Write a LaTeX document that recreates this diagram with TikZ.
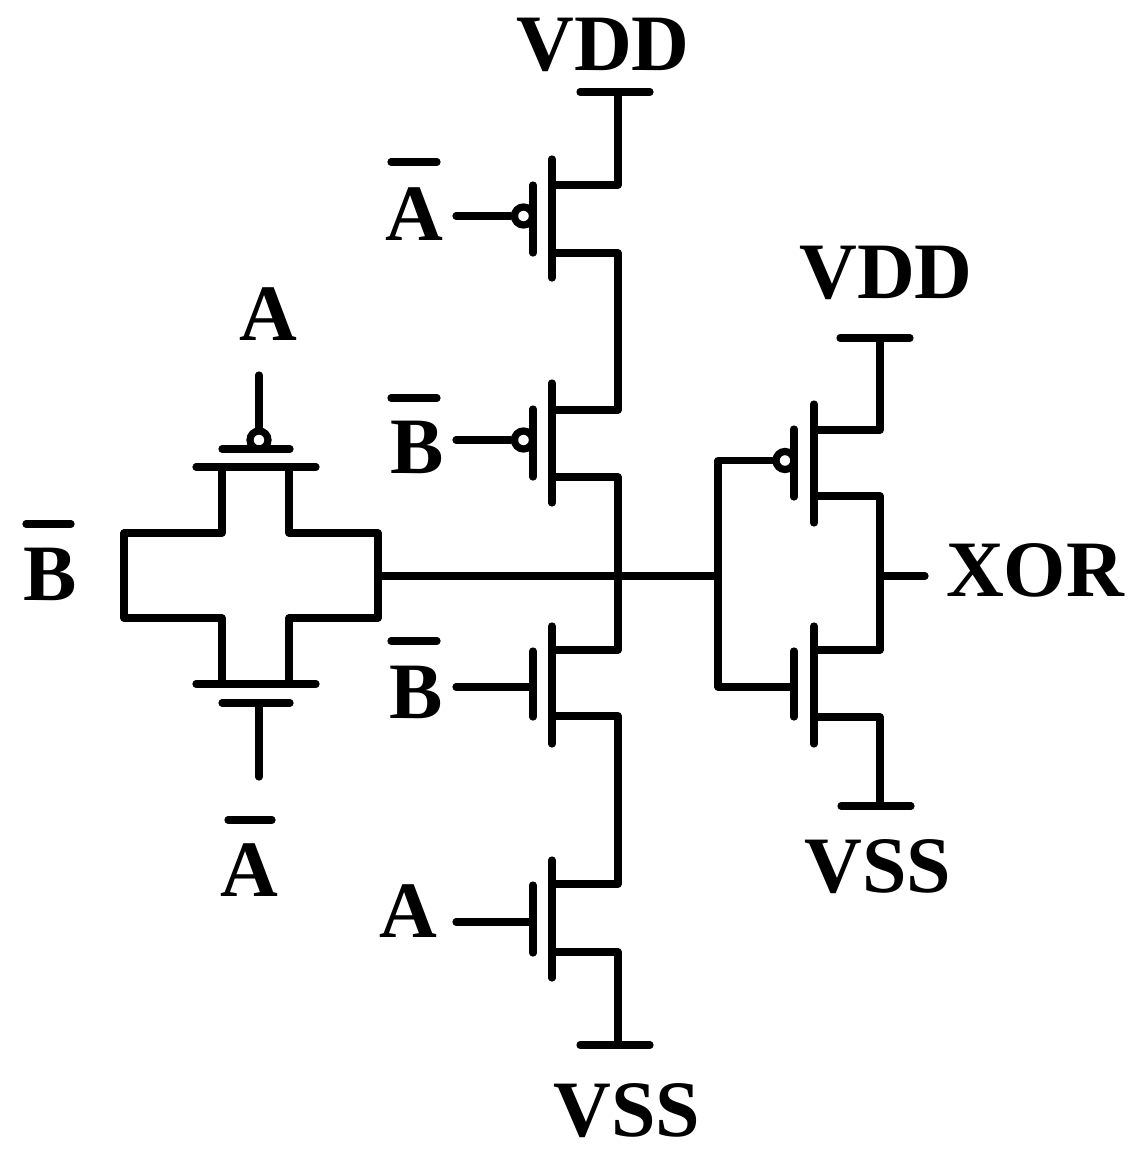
\documentclass[tikz,border=0pt]{standalone}
\usepackage{fontspec}
\setmainfont{Liberation Serif}
\tikzset{
  wire/.style={line width=3.6pt,line cap=round,line join=round},
  bubble/.style={circle,draw,line width=3.6pt,fill=white,minimum size=9pt,inner sep=0pt},
  lbl/.style={font=\fontsize{40}{40}\selectfont\bfseries,inner sep=0pt,anchor=base}
}
\begin{document}
\begin{tikzpicture}[x=0.5pt,y=-0.5pt]
\useasboundingbox (0,0) rectangle (1138,1157);
% bubbles first, so that the gate bars cut them
\node[bubble] (b1) at (523.5,216) {};
\node[bubble] (b2) at (523.5,440) {};
\node[bubble] (b3) at (785,460.5) {};
\node[bubble] (b4) at (259,440) {};
% left stack
\draw[wire] (580,92) -- (650,92);
\draw[wire] (618,92) |- (552,185);
\draw[wire] (552,159) -- (552,278);
\draw[wire] (533,185) -- (533,253);
\draw[wire] (552,253) -| (618,410) -- (552,410);
\draw[wire] (456,216) -- (b1);
\draw[wire] (552,383) -- (552,503);
\draw[wire] (533,409) -- (533,477);
\draw[wire] (456,440) -- (b2);
\draw[wire] (552,477) -| (618,650) -- (552,650);
\draw[wire] (552,626) -- (552,744);
\draw[wire] (533,651) -- (533,717);
\draw[wire] (456,687) -- (533,687);
\draw[wire] (552,716) -| (618,884) -- (552,884);
\draw[wire] (552,860) -- (552,978);
\draw[wire] (533,885) -- (533,953);
\draw[wire] (456,922) -- (533,922);
\draw[wire] (552,952) -| (618,1045);
\draw[wire] (580,1045) -- (650,1045);
% right inverter
\draw[wire] (840,338) -- (910,338);
\draw[wire] (880,338) |- (814,430);
\draw[wire] (814,404) -- (814,523);
\draw[wire] (794,429) -- (794,497);
\draw[wire] (b3) -| (718,687) -- (794,687);
\draw[wire] (814,496) -| (880,650) -- (814,650);
\draw[wire] (814,626) -- (814,744);
\draw[wire] (794,651) -- (794,717);
\draw[wire] (814,717) -| (880,806);
\draw[wire] (841,806) -- (911,806);
\draw[wire] (880,576) -- (925,576);
% transmission gate
\draw[wire] (259,375) -- (b4);
\draw[wire] (222,449) -- (290,449);
\draw[wire] (196,467) -- (316,467);
\draw[wire] (222,467) -- (222,533) -- (124,533) -- (124,618) -- (222,618) -- (222,684);
\draw[wire] (289,467) -- (289,533) -- (378,533) -- (378,618) -- (289,618) -- (289,684);
\draw[wire] (196,684) -- (316,684);
\draw[wire] (222,703) -- (290,703);
\draw[wire] (259,703) -- (259,777);
\draw[wire] (378,576) -- (718,576);
% overbars
\draw[wire] (391,162) -- (437,162);
\draw[wire] (391,398) -- (437,398);
\draw[wire] (391,641) -- (437,641);
\draw[wire] (26,524) -- (71,524);
\draw[wire] (228,820) -- (272,820);
% labels
\node[lbl] (vdd1) at (603,70) {VDD};
\node[lbl] (vdd2) at (886,298) {VDD};
\node[lbl] (vss1) at (627,1136) {VSS};
\node[lbl] (vss2) at (878,892) {VSS};
\node[lbl] (xor) at (1035,596) {XOR};
\node[lbl] (la1) at (414,240) {A};
\node[lbl] (lb1) at (417,473) {B};
\node[lbl] (lb2) at (416,718) {B};
\node[lbl] (la2) at (408,937) {A};
\node[lbl] (la3) at (268,340) {A};
\node[lbl] (lb3) at (50,600) {B};
\node[lbl] (la4) at (249,896) {A};
\end{tikzpicture}
\end{document}
